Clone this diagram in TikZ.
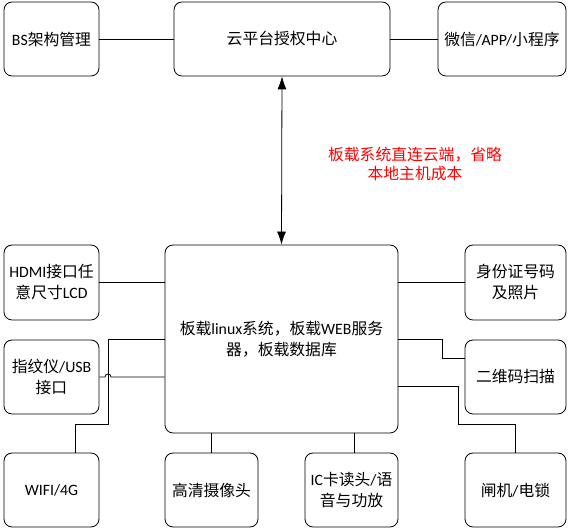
\documentclass[tikz,border=0pt]{standalone}
\usepackage{fontspec}
\setmainfont{Noto Sans CJK SC}
\newfontfamily\lat{Carlito}
\usetikzlibrary{arrows.meta}

\begin{document}
\begin{tikzpicture}[
      x=1pt, y=1pt,
      box/.style={draw, line width=0.8pt, rounded corners=8pt, align=center,
                  font=\fontsize{15.8}{21}\selectfont, inner sep=2pt},
      link/.style={line width=0.8pt},
      note/.style={text=red, align=center, font=\fontsize{15.8}{19}\selectfont}
    ]
    \useasboundingbox (0,0) rectangle (571,529);

    % top row
    \node[box, minimum width=95pt, minimum height=74pt] (bs) at (51.5,490) {{\lat BS}架构管理};
    \node[box, minimum width=216pt, minimum height=74pt] (cloud) at (282,490) {云平台授权中心};
    \node[box, minimum width=128pt, minimum height=74pt] (wx) at (502,490) {微信{\lat /APP/}小程序};

    % board
    \node[box, minimum width=233pt, minimum height=188pt] (board) at (281.5,190)
      {板载{\lat linux}系统，板载{\lat WEB}服务\\器，板载数据库};
    \node[note] (cost) at (415,365) {板载系统直连云端，省略\\本地主机成本};

    % left column
    \node[box, minimum width=95pt, minimum height=75pt] (hdmi) at (51.5,246.5) {{\lat HDMI}接口任\\意尺寸{\lat LCD}};
    \node[box, minimum width=95pt, minimum height=74pt] (fp) at (51.5,152) {指纹仪{\lat /USB}\\接口};
    \node[box, minimum width=95pt, minimum height=74pt] (wifi) at (51.5,39) {\lat WIFI/4G};

    % right column
    \node[box, minimum width=101pt, minimum height=75pt] (idc) at (515.5,246.5) {身份证号码\\及照片};
    \node[box, minimum width=101pt, minimum height=74pt] (qr) at (515.5,152) {二维码扫描};
    \node[box, minimum width=101pt, minimum height=74pt] (gate) at (515.5,39) {闸机{\lat /}电锁};

    % bottom row
    \node[box, minimum width=93pt, minimum height=74pt] (cam) at (211.5,39) {高清摄像头};
    \node[box, minimum width=93pt, minimum height=74pt] (ic) at (351.5,39) {{\lat IC}卡读头{\lat /}语\\音与功放};

    % connectors
    \draw[link] (bs) -- (cloud);
    \draw[link] (cloud) -- (wx);
    \draw[link, {Latex[length=13pt,width=9pt]}-{Latex[length=13pt,width=9pt]}] (cloud.south) -- (board.north);
    \draw[link] (hdmi.east) -- (hdmi.east -| board.west);
    \draw[link] (fp.east) -- (105,152) arc (180:0:3pt) -- (fp.east -| board.west);
    \draw[link] ([xshift=24pt]wifi.north) |- (108,105) |- (board.west);
    \draw[link] (idc.west) -- (idc.west -| board.east);
    \draw[link] (board.east) -| (442,171) -- ([yshift=19pt]qr.west);
    \draw[link] ([yshift=-47pt]board.east) -| (458,105) -| (gate.north);
    \draw[link] (cam.north) -- (cam.north |- board.south);
    \draw[link] ([xshift=3pt]ic.north) -- ([xshift=3pt]ic.north |- board.south);
  \end{tikzpicture}
\end{document}
